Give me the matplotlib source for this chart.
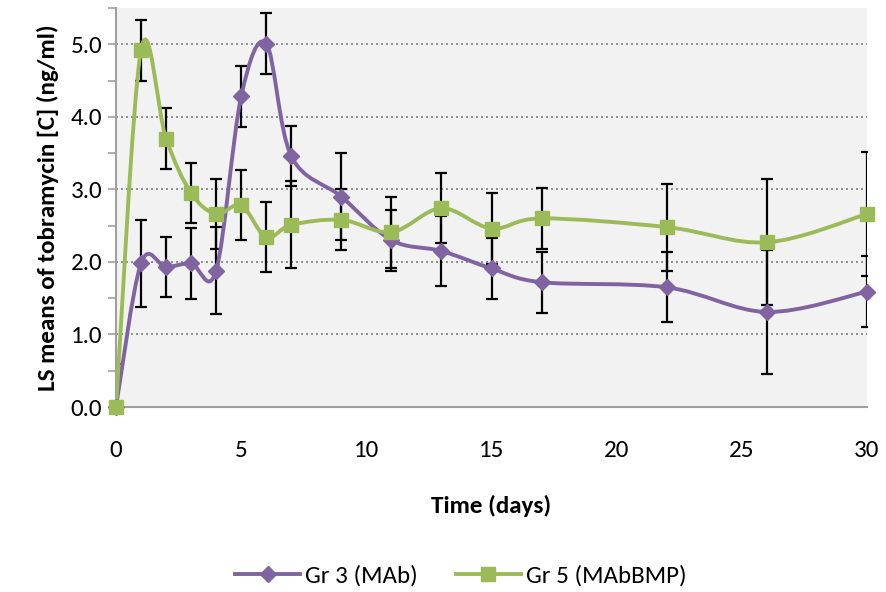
import numpy as np
import matplotlib
matplotlib.use('Agg')
import matplotlib.pyplot as plt
from matplotlib.path import Path
from matplotlib.patches import PathPatch
from matplotlib.lines import Line2D
from matplotlib.ticker import MultipleLocator, FormatStrFormatter

plt.rcParams['font.family'] = ['Carlito', 'Liberation Sans Narrow', 'DejaVu Sans']

days = [0, 1, 2, 3, 4, 5, 6, 7, 9, 11, 13, 15, 17, 22, 26, 30]
gr3 = [0.0, 1.98, 1.93, 1.98, 1.88, 4.28, 5.01, 3.46, 2.90, 2.30, 2.15, 1.91, 1.72, 1.65, 1.31, 1.59]
gr3_err = [0.59, 0.60, 0.41, 0.49, 0.60, 0.42, 0.42, 0.42, 0.60, 0.42, 0.48, 0.42, 0.42, 0.48, 0.86, 0.49]
gr5 = [0.0, 4.92, 3.70, 2.95, 2.66, 2.78, 2.34, 2.51, 2.58, 2.41, 2.74, 2.46, 2.60, 2.48, 2.27, 2.66]
gr5_err = [0.41, 0.42, 0.42, 0.42, 0.48, 0.48, 0.48, 0.60, 0.42, 0.49, 0.48, 0.49, 0.42, 0.60, 0.87, 0.85]

purple = '#8064A2'
green = '#9BBB59'


def smooth_path(x, y):
    # Excel-style smoothed line: cubic bezier through points (catmull-rom)
    pts = np.column_stack([x, y]).astype(float)
    n = len(pts)
    verts = [pts[0]]
    codes = [Path.MOVETO]
    for i in range(n - 1):
        p0 = pts[i - 1] if i > 0 else pts[i]
        p1 = pts[i]
        p2 = pts[i + 1]
        p3 = pts[i + 2] if i + 2 < n else pts[i + 1]
        c1 = p1 + (p2 - p0) / 6.0
        c2 = p2 - (p3 - p1) / 6.0
        verts += [c1, c2, p2]
        codes += [Path.CURVE4] * 3
    return Path(verts, codes)


fig = plt.figure(figsize=(8.86, 5.92), dpi=100)
ax = fig.add_axes([0.1309, 0.3125, 0.8477, 0.674])
ax.set_facecolor('#F2F2F2')

for vals, errs in [(gr3, gr3_err), (gr5, gr5_err)]:
    ax.errorbar(days, vals, yerr=errs, fmt='none', ecolor='black',
                elinewidth=1.6, capsize=4.5, capthick=1.6, zorder=2)

ax.add_patch(PathPatch(smooth_path(days, gr3), facecolor='none',
                       edgecolor=purple, linewidth=2.8, zorder=3))
ax.add_patch(PathPatch(smooth_path(days, gr5), facecolor='none',
                       edgecolor=green, linewidth=2.8, zorder=3))
ax.plot(days, gr3, linestyle='none', marker='D', markersize=8.5,
        color=purple, zorder=4, clip_on=False)
ax.plot(days, gr5, linestyle='none', marker='s', markersize=10.5,
        color=green, zorder=5, clip_on=False)

ax.set_xlim(0, 30)
ax.set_ylim(0, 5.5)
ax.xaxis.set_major_locator(MultipleLocator(5))
ax.yaxis.set_major_locator(MultipleLocator(1))
ax.yaxis.set_minor_locator(MultipleLocator(0.5))
ax.yaxis.set_major_formatter(FormatStrFormatter('%.1f'))
ax.tick_params(axis='x', length=0, pad=24, labelsize=18)
ax.tick_params(axis='y', which='both', length=6, width=1.2, color='#A0A0A0',
               direction='out', labelsize=18, pad=4)
ax.grid(axis='y', which='major', linestyle=(0, (1.2, 1.8)), color='#808080',
        linewidth=1.2)
ax.set_axisbelow(True)

for s in ['top', 'right']:
    ax.spines[s].set_visible(False)
for s in ['left', 'bottom']:
    ax.spines[s].set_color('#A0A0A0')
    ax.spines[s].set_linewidth(1.5)

ax.set_xlabel('Time (days)', fontsize=18, fontweight='bold', labelpad=24)
ax.set_ylabel('LS means of tobramycin [C] (ng/ml)', fontsize=18,
              fontweight='bold', labelpad=8)

handles = [Line2D([], [], color=purple, linewidth=2.8, marker='D', markersize=8.5),
           Line2D([], [], color=green, linewidth=2.8, marker='s', markersize=10.5)]
fig.legend(handles, ['Gr 3 (MAb)', 'Gr 5 (MAbBMP)'], loc='center',
           bbox_to_anchor=(0.52, 0.027), ncol=2, frameon=False, fontsize=18,
           handlelength=2.6, columnspacing=1.5, handletextpad=0.2)

fig.savefig('out.png', dpi=100)
